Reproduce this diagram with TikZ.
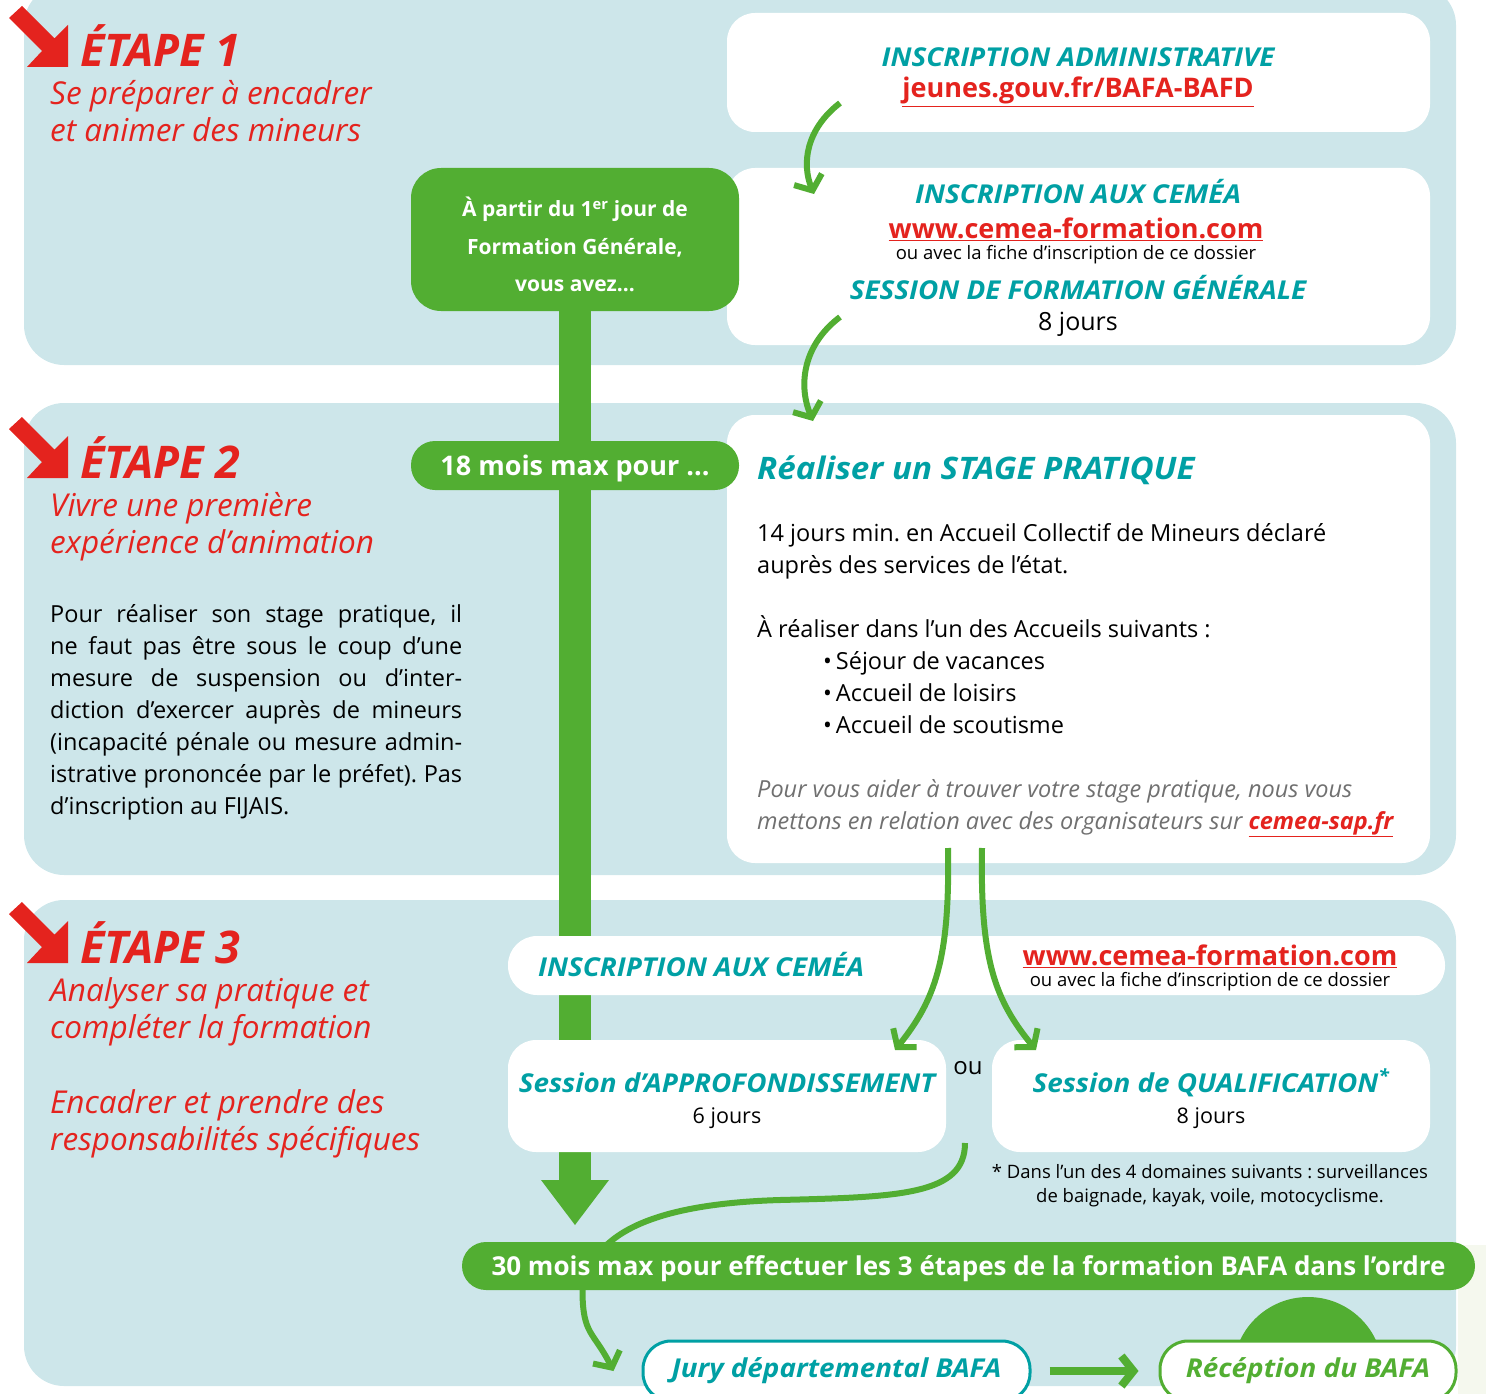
\documentclass[tikz,border=0pt]{standalone}
\usepackage{fontspec}
\setmainfont{Open Sans}
\newfontfamily\heavy[FakeStretch=1.07]{Open Sans}
\usetikzlibrary{arrows.meta}
\frenchspacing

\definecolor{panelblue}{RGB}{205,230,234}
\definecolor{leafgreen}{RGB}{82,174,50}
\definecolor{cemeateal}{RGB}{0,160,164}
\definecolor{alertred}{RGB}{228,35,30}
\definecolor{notegray}{RGB}{112,112,112}
\definecolor{offwhite}{RGB}{245,248,238}

\pgfdeclarelayer{panels}
\pgfdeclarelayer{bars}
\pgfsetlayers{panels,bars,main}

\tikzset{
  panel/.style={fill=panelblue,rounded corners=40pt},
  whitebox/.style={fill=white,rounded corners=28pt,inner sep=0pt},
  greenbox/.style={fill=leafgreen,rounded corners=24pt,inner sep=0pt,text=white,
    font=\bfseries\fontsize{21}{37.5}\selectfont,align=center},
  stepname/.style={anchor=base west,inner sep=0pt,text=alertred,
    font=\bfseries\itshape\fontsize{45}{50}\selectfont},
  stepsub/.style={anchor=north west,inner sep=0pt,align=left,text=alertred,
    font=\itshape\fontsize{31.5}{37.5}\selectfont},
  title/.style={anchor=base,inner sep=0pt,text=cemeateal,
    font=\heavy\bfseries\itshape\fontsize{26}{30}\selectfont},
  weblink/.style={anchor=base,inner sep=0pt,text=alertred,
    font=\bfseries\fontsize{27}{30}\selectfont},
  small/.style={anchor=base,inner sep=0pt,align=center,
    font=\fontsize{18.5}{24}\selectfont},
  body/.style={anchor=north west,inner sep=0pt,align=left,
    font=\fontsize{23.5}{32}\selectfont},
  flow/.style={draw=leafgreen,line width=6pt,-{Straight Barb[length=12pt,width=30pt]}},
  finalbox/.style={fill=white,line width=3pt,rounded corners=28pt,minimum height=60pt,
    font=\heavy\bfseries\itshape\fontsize{26}{30}\selectfont},
}

\begin{document}
\begin{tikzpicture}[x=1pt,y=-1pt]
\clip (0,0) rectangle (1486,1394);

% background panels
\begin{pgfonlayer}{panels}
\fill[panel] (24,-15) rectangle (1456,365);
\fill[panel] (24,403) rectangle (1456,875);
\fill[panel] (24,900) rectangle (1456,1386);
\fill[offwhite] (1458,1245) rectangle (1486,1394);
\end{pgfonlayer}

% red step markers
\foreach \dy in {0,411,896}
  \fill[alertred,shift={(0,\dy)}] (9,18) -- (22,6) -- (54.5,38.5) -- (68,25)
    -- (68,67) -- (27,67) -- (42,51) -- cycle;

\path (80,67) node[stepname] (e1) {ÉTAPE 1};
\path (50,80) node[stepsub] (s1) {Se préparer à encadrer\\et animer des mineurs};
\path (80,478) node[stepname] (e2) {ÉTAPE 2};
\path (50,492) node[stepsub] (s2) {Vivre une première\\expérience d’animation};
\path (80,963) node[stepname] (e3) {ÉTAPE 3};
\path (50,977) node[stepsub] (s3) {Analyser sa pratique et\\compléter la formation};
\path (50,1089) node[stepsub] (s4) {Encadrer et prendre des\\responsabilités spécifiques};

\path (50,604) node[body,text width=412pt,align=justify] (rule)
  {Pour réaliser son stage pratique, il\linebreak ne faut pas être sous le coup d’une\linebreak
   mesure de suspension ou d’inter-\linebreak diction d’exercer auprès de mineurs\linebreak
   (incapacité pénale ou mesure admin-\linebreak istrative prononcée par le préfet). Pas\linebreak
   d’inscription au FIJAIS.};

% white boxes
\path (1078.5,72.5) node[whitebox,minimum width=703pt,minimum height=119pt] (adm) {};
\path (1078.5,256.5) node[whitebox,minimum width=703pt,minimum height=177pt] (fg) {};
\path (1078.5,639) node[whitebox,minimum width=703pt,minimum height=448pt] (stage) {};
\path (976.5,965.5) node[whitebox,minimum width=937pt,minimum height=59pt,rounded corners=29pt] (insc) {};
\path (727,1096) node[whitebox,minimum width=438pt,minimum height=112pt] (appro) {};
\path (1211,1096) node[whitebox,minimum width=438pt,minimum height=112pt] (qualif) {};

% green boxes
\path (575,239.5) node[greenbox,minimum width=328pt,minimum height=143pt,rounded corners=30pt] (start)
  {\rule{0pt}{30pt}À partir du 1\textsuperscript{er} jour de\\Formation Générale,\\vous avez...};
\path (575,465.5) node[greenbox,minimum width=328pt,minimum height=49pt,text depth=0pt,
  font=\bfseries\fontsize{27}{30}\selectfont] (delay) {18 mois max pour ...};

\coordinate (barend) at (575,1225);
\begin{pgfonlayer}{bars}
\draw[leafgreen,line width=32pt,-{Triangle[length=45pt,width=68pt,line width=0pt]}] (start.south) -- (barend);
\end{pgfonlayer}

% texts in boxes
\path (1078,67) node[title] (t1) {INSCRIPTION ADMINISTRATIVE};
\path (1078,98) node[weblink] (u1) {\underline{jeunes.gouv.fr/BAFA-BAFD}};
\path (1078,203) node[title] (t2) {INSCRIPTION AUX CEMÉA};
\path (1076,238) node[weblink] (u2) {\underline{www.cemea-formation.com}};
\path (1076,259) node[small] (n2) {ou avec la fiche d’inscription de ce dossier};
\path (1078,299) node[title] (t3) {SESSION DE FORMATION GÉNÉRALE};
\path (1078,330) node[anchor=base,inner sep=0pt,font=\fontsize{25}{30}\selectfont] (d3) {8 jours};

\path (757,479) node[anchor=base west,inner sep=0pt,text=cemeateal,
  font=\heavy\bfseries\itshape\fontsize{31}{36}\selectfont] (t4) {Réaliser un STAGE PRATIQUE};
\path (757,523) node[body] (b4)
  {14 jours min. en Accueil Collectif de Mineurs déclaré\\auprès des services de l’état.\\[32pt]
   À réaliser dans l’un des Accueils suivants :\\
   \hspace*{66pt}•\,Séjour de vacances\\\hspace*{66pt}•\,Accueil de loisirs\\\hspace*{66pt}•\,Accueil de scoutisme};
\path (757,779) node[body,text=notegray,font=\itshape\fontsize{23.5}{32}\selectfont] (h4)
  {Pour vous aider à trouver votre stage pratique, nous vous\\mettons en relation avec des organisateurs sur
   \textcolor{alertred}{\bfseries\underline{cemea-sap.fr}}};

\path (538,976) node[title,anchor=base west] (t5) {INSCRIPTION AUX CEMÉA};
\path (1210,965) node[weblink] (u5) {\underline{www.cemea-formation.com}};
\path (1210,986) node[small] (n5) {ou avec la fiche d’inscription de ce dossier};

\path (727,1092) node[title] (t6) {Session d’APPROFONDISSEMENT};
\path (727,1123) node[anchor=base,inner sep=0pt,font=\fontsize{21.5}{24}\selectfont] (d6) {6 jours};
\path (968,1074) node[anchor=base,inner sep=0pt,font=\fontsize{24}{24}\selectfont] (or) {ou};
\path (1211,1092) node[title] (t7) {Session de QUALIFICATION\textsuperscript{*}};
\path (1211,1123) node[anchor=base,inner sep=0pt,font=\fontsize{21.5}{24}\selectfont] (d7) {8 jours};
\path (1210,1202) node[small] (f7) {* Dans l’un des 4 domaines suivants : surveillances\\de baignade, kayak, voile, motocyclisme.};

% link from qualification down to the 30 months band
\coordinate (q1) at (965,1143);
\coordinate (q2) at (600,1252);
\begin{pgfonlayer}{bars}
\draw[leafgreen,line width=6pt] (q1) .. controls (965,1195) and (900,1197) .. (780,1200)
  .. controls (680,1203) and (625,1222) .. (q2);
\end{pgfonlayer}

\path (968.5,1266) node[greenbox,minimum width=1013pt,minimum height=48pt,text depth=0pt,
  font=\bfseries\fontsize{26}{30}\selectfont] (total)
  {30 mois max pour effectuer les 3 étapes de la formation BAFA dans l’ordre};

% final boxes
\fill[leafgreen] (1308,1372) circle (75pt);
\path (836.5,1371) node[finalbox,draw=cemeateal,text=cemeateal,minimum width=387pt] (jury) {Jury départemental BAFA};
\path (1308,1371) node[finalbox,draw=leafgreen,text=leafgreen,minimum width=296pt] (recep) {Récéption du BAFA};

% arrows
\coordinate (a1) at (840,103);
\coordinate (a2) at (814,194);
\coordinate (b1) at (840,317);
\coordinate (b2) at (813,421);
\coordinate (c1) at (948,848);
\coordinate (c2) at (895,1050);
\coordinate (d1) at (982,848);
\coordinate (d2) at (1036,1050);
\draw[flow] (a1) .. controls (805,130) and (802,165) .. (a2);
\draw[flow] (b1) .. controls (803,345) and (798,385) .. (b2);
\draw[flow] (c1) .. controls (950,960) and (935,1000) .. (c2);
\draw[flow] (d1) .. controls (980,960) and (995,1000) .. (d2);
\draw[flow] ([xshift=-386pt]total.south) .. controls +(0,45) and +(-20,-40) .. ([xshift=-28pt]jury.west);
\draw[flow,line width=8pt,shorten <=18pt,shorten >=20pt] (jury) -- (recep);
\end{tikzpicture}
\end{document}
